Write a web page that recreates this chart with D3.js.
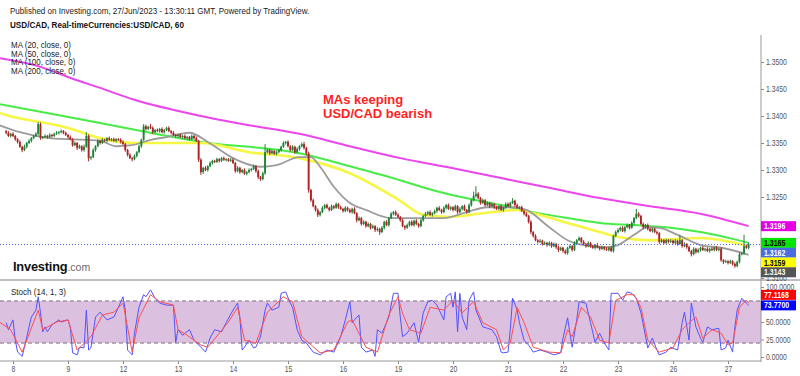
<!DOCTYPE html>
<html>
<head>
<meta charset="utf-8">
<script src="https://cdn.jsdelivr.net/npm/d3@7"></script>
<style>
  body { margin: 0; background: #fff; }
  svg { display: block; font-family: "Liberation Sans", Arial, sans-serif; }
</style>
</head>
<body>
<svg id="chart" width="800" height="376"></svg>
<script>
// ---- data (prices are pips above 1.3000, hours counted from Jun 8 00:00) ----
var dayLabels = ["8", "9", "12", "13", "14", "15", "16", "19", "20", "21", "22", "23", "26", "27"];
var dayStartHour = [0, 24, 48, 72, 96, 120, 144, 168, 192, 216, 240, 264, 288, 312];
// 1.3150, 1.3200 and 75 sit under the value tags, so they are not labelled
var priceTicks = [1.31, 1.325, 1.33, 1.335, 1.34, 1.345, 1.35];
var stochTicks = [0, 25, 50, 100];

var firstHour = -3;
var firstOpen = 372;
var closePips = [
  369, 363, 367,
  363, 357, 352, 343, 337, 343, 350, 354, 359, 363, 367, 385, 359, 361, 363, 361, 365, 363, 367, 369, 370, 372, 369, 365, // 8
  361, 357, 346, 350, 341, 344, 337, 343, 363, 322, 324, 337, 344, 354, 350, 356, 354, 359, 356, 357, 354, 357, 356, 352, // 9
  348, 337, 328, 322, 320, 326, 333, 344, 356, 381, 376, 380, 378, 370, 374, 372, 376, 370, 374, 378, 372, 369, 365, 363, // 12
  365, 361, 363, 359, 361, 357, 363, 359, 354, 319, 296, 304, 300, 307, 313, 317, 315, 320, 317, 322, 319, 320, 317, 319, // 13
  313, 298, 304, 296, 300, 293, 296, 300, 302, 307, 298, 287, 283, 294, 333, 337, 331, 335, 330, 333, 337, 343, 350, 352, // 14
  344, 337, 343, 333, 339, 344, 348, 341, 331, 263, 244, 233, 226, 217, 222, 230, 235, 230, 226, 233, 230, 237, 231, 228, // 15
  224, 230, 226, 222, 228, 220, 207, 211, 200, 204, 196, 200, 193, 196, 189, 191, 185, 193, 204, 198, 211, 219, 222, 217, // 16
  213, 207, 196, 193, 198, 204, 198, 206, 200, 196, 207, 215, 219, 222, 217, 220, 224, 230, 226, 222, 230, 235, 228, 231, // 19
  226, 233, 222, 228, 233, 226, 222, 235, 244, 252, 256, 248, 239, 244, 235, 239, 233, 237, 231, 228, 233, 226, 230, 237, // 20
  233, 239, 243, 235, 230, 231, 224, 219, 215, 204, 185, 178, 170, 167, 169, 163, 165, 161, 165, 159, 163, 157, 152, 156, // 21
  150, 146, 156, 159, 152, 165, 170, 174, 167, 163, 159, 165, 159, 156, 161, 157, 154, 157, 154, 152, 156, 150, 178, 185, // 22
  189, 193, 187, 194, 198, 193, 202, 211, 219, 215, 200, 194, 198, 191, 187, 191, 185, 183, 167, 170, 165, 170, 167, 169, // 23
  165, 169, 163, 170, 159, 163, 157, 150, 144, 154, 148, 152, 156, 152, 154, 150, 154, 152, 156, 152, 154, 133, 130, 131, // 26
  128, 131, 126, 122, 130, 144, 146, 159, 156, 162 // 27
];
var wickUp = [
  2, 3, 2,
  3, 2, 2, 3, 2, 4, 2, 3, 2, 2, 3, 4, 3, 2, 3, 2, 3, 2, 2, 3, 2, 3, 2, 2,
  2, 3, 2, 3, 2, 3, 2, 4, 7, 3, 2, 3, 2, 3, 2, 3, 2, 2, 3, 2, 3, 2, 2, 3,
  3, 2, 2, 3, 2, 3, 2, 3, 2, 4, 3, 2, 5, 3, 2, 3, 2, 3, 2, 2, 3, 2, 3, 2,
  2, 3, 2, 3, 2, 2, 3, 2, 3, 2, 3, 2, 3, 2, 3, 2, 2, 3, 2, 2, 3, 2, 2, 3,
  3, 2, 3, 2, 2, 3, 2, 3, 2, 3, 2, 3, 2, 3, 15, 3, 2, 3, 2, 3, 2, 2, 3, 2,
  3, 2, 3, 2, 3, 2, 3, 4, 2, 3, 2, 3, 2, 3, 2, 3, 2, 3, 2, 3, 2, 3, 2, 3,
  2, 3, 2, 3, 2, 3, 2, 3, 2, 3, 2, 3, 2, 3, 2, 3, 2, 3, 2, 3, 2, 3, 2, 3,
  3, 2, 3, 2, 3, 2, 3, 2, 3, 2, 3, 2, 3, 2, 3, 2, 3, 2, 3, 2, 3, 2, 3, 2,
  2, 3, 2, 3, 2, 3, 2, 3, 2, 8, 14, 3, 2, 3, 2, 3, 2, 3, 2, 3, 2, 3, 2, 3,
  3, 2, 5, 2, 3, 2, 3, 2, 3, 2, 3, 2, 3, 2, 3, 2, 3, 2, 3, 2, 3, 2, 3, 2,
  2, 3, 2, 3, 2, 3, 2, 3, 2, 3, 2, 3, 2, 3, 2, 4, 2, 3, 2, 3, 2, 3, 2, 3,
  3, 2, 3, 2, 3, 2, 3, 2, 9, 3, 2, 3, 2, 3, 2, 3, 2, 3, 2, 3, 2, 3, 2, 3,
  2, 3, 2, 10, 2, 3, 2, 3, 2, 3, 2, 3, 2, 3, 2, 3, 2, 3, 2, 3, 2, 3, 2, 3,
  2, 3, 2, 3, 2, 3, 2, 21, 3, 4
];
var wickDown = [
  3, 2, 3,
  2, 3, 3, 2, 4, 2, 3, 2, 3, 2, 2, 3, 3, 2, 2, 3, 2, 3, 2, 2, 3, 2, 3, 2,
  3, 2, 3, 2, 4, 2, 3, 3, 2, 6, 3, 2, 3, 2, 3, 2, 2, 3, 2, 3, 2, 3, 2, 3,
  2, 3, 3, 2, 4, 2, 3, 2, 3, 2, 3, 2, 2, 3, 2, 2, 3, 2, 3, 2, 2, 3, 2, 3,
  3, 2, 3, 2, 3, 2, 2, 3, 2, 4, 5, 3, 2, 3, 2, 3, 2, 2, 3, 2, 2, 3, 2, 2,
  2, 3, 2, 3, 2, 2, 3, 2, 3, 2, 3, 4, 3, 2, 3, 2, 3, 2, 2, 3, 2, 3, 2, 3,
  2, 3, 2, 3, 2, 3, 2, 3, 4, 5, 3, 2, 3, 4, 3, 2, 3, 2, 3, 2, 3, 2, 3, 2,
  3, 2, 3, 2, 3, 2, 4, 2, 3, 2, 3, 2, 3, 2, 4, 3, 5, 2, 3, 2, 3, 2, 3, 2,
  2, 3, 2, 4, 2, 3, 2, 3, 2, 3, 2, 3, 2, 3, 2, 3, 2, 3, 2, 3, 2, 3, 2, 3,
  3, 2, 3, 2, 3, 2, 3, 2, 3, 2, 3, 2, 3, 2, 3, 2, 3, 2, 3, 2, 3, 2, 3, 2,
  2, 3, 2, 3, 2, 3, 2, 3, 2, 3, 4, 3, 2, 3, 2, 3, 2, 3, 2, 3, 2, 3, 4, 2,
  3, 2, 3, 2, 3, 2, 3, 2, 3, 2, 3, 2, 3, 2, 3, 2, 3, 2, 3, 2, 3, 2, 3, 2,
  2, 3, 2, 3, 2, 3, 2, 3, 2, 3, 2, 3, 2, 3, 2, 3, 2, 3, 4, 2, 3, 2, 3, 2,
  3, 2, 3, 2, 3, 2, 3, 2, 4, 2, 3, 2, 3, 2, 3, 2, 3, 2, 3, 2, 3, 3, 4, 2,
  3, 2, 3, 3, 2, 3, 2, 3, 2, 3
];

// moving averages, [hour, pips]
var ma20 = [[-6, 383], [3, 370], [16, 359], [24, 357], [38, 354], [45, 344], [52, 346], [60, 356], [67, 361], [77, 369],
  [85, 352], [96, 322], [108, 306], [115, 309], [125, 324], [130, 324], [134, 306], [140, 269], [147, 239], [154, 226],
  [165, 211], [179, 211], [188, 211], [198, 222], [207, 231], [218, 231], [224, 226], [234, 194], [242, 170], [249, 161],
  [259, 157], [264, 161], [271, 180], [277, 194], [282, 193], [290, 180], [300, 161], [309, 156], [321, 143]];
var ma50 = [[-6, 406], [-3, 402], [24, 378], [38, 359], [52, 350], [67, 350], [82, 350], [103, 333], [125, 322], [147, 294],
  [169, 243], [179, 217], [191, 213], [205, 220], [220, 226], [227, 220], [242, 202], [256, 185], [264, 176], [278, 170],
  [300, 174], [321, 159]];
var ma100 = [[-6, 422], [38, 387], [82, 352], [125, 331], [147, 307], [169, 281], [178, 269], [191, 254], [213, 235],
  [227, 222], [242, 211], [256, 202], [271, 198], [285, 194], [300, 185], [321, 165]];
var ma200 = [[-6, 507], [12, 491], [26, 469], [38, 452], [53, 430], [82, 400], [103, 383], [125, 367], [147, 344],
  [169, 322], [191, 304], [213, 285], [234, 267], [256, 248], [278, 233], [300, 219], [321, 196]];

// stochastic %K and %D, [hour, value]
var stochK = [[-3, 49], [-2, 39], [0, 53], [1, 24], [2, 7], [4, 1], [5, 14], [7, 43], [8, 57], [10, 67], [11, 86], [12, 63],
  [13, 36], [14, 43], [15, 36], [17, 46], [20, 53], [21, 50], [24, 53], [25, 43], [26, 6], [28, 3], [29, 14], [31, 13],
  [32, 67], [33, 10], [34, 13], [36, 57], [38, 64], [41, 53], [44, 57], [46, 71], [48, 86], [49, 67], [50, 10], [52, 3],
  [53, 34], [55, 71], [57, 89], [58, 86], [60, 96], [62, 84], [64, 77], [67, 74], [70, 74], [71, 21], [72, 39], [74, 31],
  [75, 34], [77, 39], [79, 24], [82, 14], [84, 7], [86, 27], [88, 39], [91, 36], [93, 49], [96, 67], [98, 77], [99, 57],
  [100, 10], [101, 14], [103, 24], [105, 13], [106, 14], [108, 29], [110, 67], [111, 77], [113, 67], [116, 71], [117, 91],
  [119, 93], [121, 77], [122, 71], [124, 39], [126, 24], [128, 20], [131, 7], [134, 3], [137, 10], [140, 7], [143, 29],
  [145, 53], [147, 79], [148, 49], [149, 53], [151, 60], [152, 14], [154, 7], [157, 10], [158, 1], [159, 39], [161, 34],
  [164, 57], [166, 91], [168, 91], [169, 57], [170, 29], [172, 34], [175, 49], [177, 21], [179, 63], [181, 79], [183, 81],
  [185, 74], [188, 53], [189, 86], [191, 91], [192, 71], [193, 93], [194, 36], [195, 91], [196, 57], [198, 39], [199, 81],
  [201, 93], [202, 67], [205, 43], [207, 41], [209, 39], [211, 29], [213, 7], [214, 6], [216, 7], [217, 39], [218, 84],
  [220, 67], [221, 49], [223, 24], [225, 17], [227, 7], [230, 10], [233, 7], [236, 3], [239, 6], [240, 27], [242, 56],
  [243, 34], [244, 14], [246, 53], [247, 79], [250, 77], [252, 49], [254, 21], [256, 34], [258, 20], [260, 10], [261, 91],
  [264, 91], [266, 81], [268, 93], [270, 91], [272, 84], [274, 63], [277, 13], [279, 27], [281, 10], [282, 3], [285, 7],
  [287, 14], [290, 10], [292, 49], [293, 64], [295, 24], [296, 77], [298, 43], [300, 27], [301, 21], [303, 43], [305, 39],
  [308, 41], [309, 10], [311, 13], [312, 24], [314, 7], [315, 43], [316, 67], [318, 84], [320, 77], [321, 73.77]];
var stochD = [[-6, 50], [-1, 39], [4, 7], [11, 67], [13, 39], [19, 50], [24, 53], [28, 10], [34, 29], [39, 60], [44, 64],
  [48, 77], [52, 7], [55, 56], [60, 89], [64, 79], [70, 74], [72, 39], [76, 31], [82, 17], [85, 14], [90, 34], [94, 50],
  [98, 71], [101, 24], [106, 20], [111, 64], [118, 86], [122, 79], [126, 29], [134, 6], [140, 10], [146, 50], [148, 53],
  [154, 14], [159, 7], [164, 60], [168, 86], [170, 62], [173, 39], [178, 34], [182, 71], [188, 67], [192, 81], [196, 63],
  [201, 79], [205, 49], [211, 39], [214, 10], [217, 20], [220, 71], [223, 49], [227, 14], [234, 7], [239, 6], [242, 39],
  [244, 29], [248, 71], [252, 57], [256, 24], [260, 20], [263, 81], [268, 89], [271, 89], [274, 71], [277, 24], [282, 7],
  [288, 13], [292, 39], [295, 49], [298, 57], [301, 27], [305, 39], [309, 34], [312, 17], [314, 20], [317, 71], [320, 81],
  [321, 77.1168]];

// ---- layout ----
var svg = d3.select("#chart");
var squeeze = 0.83;           // the platform text is horizontally condensed
var axisX = 761;
var mainTop = 35, mainBottom = 280, stochBottom = 361;
var upColor = "#1f8338", downColor = "#ad2426";

var toPrice = p => 1.3 + p / 10000;
var x = d3.scaleLinear().domain([0, 312]).range([13, 728]);
var yPrice = d3.scaleLinear().domain([1.31, 1.35]).range([278, 62]);
var yStoch = d3.scaleLinear().domain([0, 100]).range([357, 287]);

var defs = svg.append("defs");
defs.append("clipPath").attr("id", "clipMain")
  .append("rect").attr("x", 0).attr("y", mainTop).attr("width", axisX).attr("height", mainBottom - mainTop);
defs.append("clipPath").attr("id", "clipStoch")
  .append("rect").attr("x", 0).attr("y", mainBottom + 2).attr("width", axisX).attr("height", stochBottom - mainBottom - 2);

function sText(sel, px, py, str, sx) {
  return sel.append("text")
    .attr("transform", "translate(" + px + "," + py + ") scale(" + (sx || squeeze) + ",1)")
    .text(str);
}

// header
sText(svg, 10, 14, "Published on Investing.com, 27/Jun/2023 - 13:30:11 GMT, Powered by TradingView.")
  .attr("font-size", 9.7).attr("fill", "#222");
sText(svg, 10, 28.3, "USD/CAD, Real-timeCurrencies:USD/CAD, 60")
  .attr("font-size", 9.8).attr("font-weight", "bold").attr("fill", "#111");

// ---- main panel ----
var main = svg.append("g").attr("clip-path", "url(#clipMain)");

var maLine = d3.line()
  .x(d => x(d[0]))
  .y(d => yPrice(toPrice(d[1])))
  .curve(d3.curveMonotoneX);

var maSeries = [
  {data: ma200, color: "#ec45ec", width: 2},
  {data: ma100, color: "#47ec47", width: 2},
  {data: ma50, color: "#f6f645", width: 2.6},
  {data: ma20, color: "#9c9c9c", width: 1.8}
];

main.selectAll("path.ma")
  .data(maSeries)
  .join("path")
    .attr("class", "ma")
    .attr("d", d => maLine(d.data))
    .attr("fill", "none")
    .attr("stroke", d => d.color)
    .attr("stroke-width", d => d.width);

var bars = closePips.map(function(c, i) {
  var o = i ? closePips[i - 1] : firstOpen;
  return {h: firstHour + i, o: o, c: c,
    hi: Math.max(o, c) + wickUp[i], lo: Math.min(o, c) - wickDown[i]};
});

var candles = main.append("g").selectAll("g")
  .data(bars)
  .join("g")
    .attr("fill", d => d.c >= d.o ? upColor : downColor)
    .attr("stroke", d => d.c >= d.o ? upColor : downColor);

candles.append("line")
  .attr("x1", d => x(d.h)).attr("x2", d => x(d.h))
  .attr("y1", d => yPrice(toPrice(d.hi)))
  .attr("y2", d => yPrice(toPrice(d.lo)))
  .attr("stroke-width", 1);

candles.append("rect")
  .attr("x", d => x(d.h) - 0.95)
  .attr("width", 1.9)
  .attr("y", d => yPrice(toPrice(Math.max(d.o, d.c))))
  .attr("height", d => Math.max(1, Math.abs(yPrice(toPrice(d.o)) - yPrice(toPrice(d.c)))))
  .attr("stroke", "none");

// last price dotted line
var lastClose = toPrice(closePips[closePips.length - 1]);
svg.append("line")
  .attr("x1", 0).attr("x2", axisX)
  .attr("y1", yPrice(lastClose)).attr("y2", yPrice(lastClose))
  .attr("stroke", "#4a6ae8").attr("stroke-width", 1)
  .attr("stroke-dasharray", "1,2");

// legend (tightly stacked like the platform's)
var legend = ["MA (20, close, 0)", "MA (50, close, 0)", "MA (100, close, 0)", "MA (200, close, 0)"];
legend.forEach(function(t, i) {
  sText(svg, 11, 48.3 + i * 8.5, t, 0.93).attr("font-size", 8.6).attr("fill", "#222");
});

// annotation
svg.append("text").attr("x", 323).attr("y", 104)
  .attr("font-size", 13).attr("font-weight", "bold").attr("fill", "#ff1f1f")
  .text("MAs keeping");
svg.append("text").attr("x", 323).attr("y", 118.3)
  .attr("font-size", 13).attr("font-weight", "bold").attr("fill", "#ff1f1f")
  .text("USD/CAD bearish");

// logo
var logo = svg.append("text").attr("x", 13).attr("y", 270.5);
logo.append("tspan").attr("font-size", 12.8).attr("font-weight", "bold")
  .attr("letter-spacing", -0.2).attr("fill", "#111").text("Investing");
logo.append("tspan").attr("font-size", 10.5).attr("fill", "#6a6a6a").text(".com");

// panel separator
svg.append("line")
  .attr("x1", 0).attr("x2", 800).attr("y1", mainBottom).attr("y2", mainBottom)
  .attr("stroke", "#a9a9a9").attr("stroke-width", 1.6);

// ---- stochastic panel ----
var stoch = svg.append("g").attr("clip-path", "url(#clipStoch)");

stoch.append("rect")
  .attr("x", 0).attr("width", axisX)
  .attr("y", yStoch(80)).attr("height", yStoch(20) - yStoch(80))
  .attr("fill", "#dcc0df");

stoch.selectAll("line.band")
  .data([80, 20])
  .join("line")
    .attr("class", "band")
    .attr("x1", 0).attr("x2", axisX)
    .attr("y1", d => yStoch(d)).attr("y2", d => yStoch(d))
    .attr("stroke", "#a392a6").attr("stroke-width", 1.4)
    .attr("stroke-dasharray", "4,3");

var stochLine = d3.line()
  .x(d => x(d[0]))
  .y(d => yStoch(d[1]));

stoch.append("path")
  .attr("d", stochLine(stochK))
  .attr("fill", "none").attr("stroke", "#5353ff").attr("stroke-width", 1);
stoch.append("path")
  .attr("d", stochLine(stochD))
  .attr("fill", "none").attr("stroke", "#ff4f4f").attr("stroke-width", 1);

sText(svg, 11, 295, "Stoch (14, 1, 3)").attr("font-size", 9.7).attr("fill", "#222");

// ---- axes ----
function styleAxis(g) {
  g.select(".domain").remove();
  g.selectAll(".tick line").attr("stroke", "#888");
  g.selectAll(".tick text")
    .attr("fill", "#555")
    .attr("font-size", 8.2)
    .attr("font-family", "Liberation Sans, Arial, sans-serif");
}

var priceAxis = svg.append("g")
  .attr("transform", "translate(" + axisX + ",0)")
  .call(d3.axisRight(yPrice).tickValues(priceTicks).tickFormat(d3.format(".4f")).tickSize(3))
  .call(styleAxis);
priceAxis.selectAll(".tick text").attr("x", 0).attr("transform", "translate(5,0) scale(" + squeeze + ",1)");

var stochAxis = svg.append("g")
  .attr("transform", "translate(" + axisX + ",0)")
  .call(d3.axisRight(yStoch).tickValues(stochTicks).tickFormat(d3.format(".4f")).tickSize(3))
  .call(styleAxis);
stochAxis.selectAll(".tick text").attr("x", 0).attr("transform", "translate(5,0) scale(" + squeeze + ",1)");

var timeAxis = svg.append("g")
  .attr("transform", "translate(0," + stochBottom + ")")
  .call(d3.axisBottom(x).tickValues(dayStartHour).tickFormat((d, i) => dayLabels[i]).tickSize(3))
  .call(styleAxis);
timeAxis.selectAll(".tick text").attr("y", 0).attr("dy", 0)
  .attr("transform", "translate(0,10.7) scale(" + squeeze + ",1)");

svg.append("line")
  .attr("x1", axisX).attr("x2", axisX).attr("y1", mainTop).attr("y2", stochBottom + 1)
  .attr("stroke", "#999").attr("stroke-width", 1);
svg.append("line")
  .attr("x1", 0).attr("x2", axisX).attr("y1", stochBottom).attr("y2", stochBottom)
  .attr("stroke", "#999").attr("stroke-width", 1);

// ---- last value tags ----
function lastOf(s) { return s[s.length - 1][1]; }

var priceTags = [
  {v: toPrice(lastOf(ma200)), bg: "#e600e6", fg: "#fff"},
  {v: toPrice(lastOf(ma100)), bg: "#00e600", fg: "#000"},
  {v: lastClose, bg: "#4a6ee0", fg: "#fff"},
  {v: toPrice(lastOf(ma50)), bg: "#ffff00", fg: "#000"},
  {v: toPrice(lastOf(ma20)), bg: "#555555", fg: "#fff"}
];
// stack tags downward so they do not overlap
var prevY = -Infinity;
priceTags.forEach(function(t) { t.y = Math.max(yPrice(t.v), prevY + 9.8); prevY = t.y; });

var stochTags = [
  {v: lastOf(stochK), bg: "#0000ff", fg: "#fff"},
  {v: lastOf(stochD), bg: "#ff0000", fg: "#fff"}
];
var prevS = Infinity;
stochTags.forEach(function(t) { t.y = Math.min(yStoch(t.v), prevS - 10.5); prevS = t.y; });

var tags = svg.append("g").selectAll("g")
  .data(priceTags.concat(stochTags))
  .join("g")
    .attr("transform", d => "translate(" + axisX + "," + d.y + ")");

tags.append("rect")
  .attr("x", 0).attr("y", -5).attr("width", 35).attr("height", 10)
  .attr("fill", d => d.bg);

tags.append("text")
  .attr("transform", "translate(3,3) scale(" + squeeze + ",1)")
  .attr("font-size", 8.4).attr("font-weight", "bold")
  .attr("fill", d => d.fg)
  .text(d => d.v.toFixed(4));
</script>
</body>
</html>
